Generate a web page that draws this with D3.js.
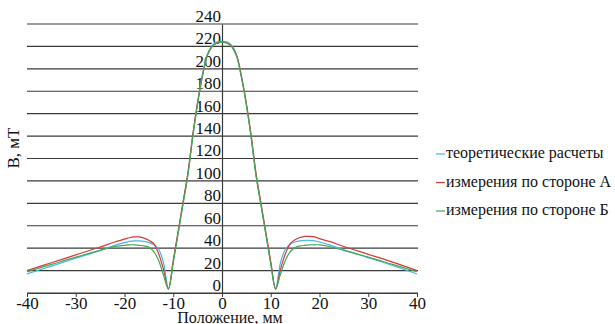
<!DOCTYPE html>
<html>
<head>
<meta charset="utf-8">
<script src="https://cdn.jsdelivr.net/npm/d3@7"></script>
<style>
  body { margin: 0; background: #fff; }
  svg text { font-family: "Liberation Serif", "Times New Roman", serif; fill: #111; }
</style>
</head>
<body>
<svg id="chart"></svg>
<script>
// positions, mm
const positions = [-40,-35,-30,-25,-22,-20,-19,-18,-17,-16,-15,-14,-13,-12,-11,
  -10,-9,-8,-7,-6,-5,-4,-3,-2,-1,0,1,2,3,4,5,6,7,8,9,10,
  11,12,13,14,15,16,17,18,19,20,22,25,30,35,40];

// B, mT
const theory = [17,24,31,38,42.5,45,46,46.5,46.5,46,45,43,39,27,4,
  28,54,80,106,140,170,195,213,221,224,224.5,224,221,212,193,168,139,105,79,53,27,
  4,27,39,43.5,45.5,46.5,47,47,46.5,45.5,43,38.5,31.5,24.5,17];
const sideA = [20,27,34,41,45.5,48,49.3,50,50,49,47,44,35,21,3.5,
  29,55,81,107,141,170,194,212,220,223,224,223,220,212,193,169,140,106,80,54,28,
  3.5,21,35,44,47.5,49.5,50.5,50.5,50,48.5,46,41.5,34.5,27.5,20];
const sideB = [19,25.5,32,38,41.5,42.5,43,43,42.5,42,40.8,37,29,16,3.5,
  27,53,79,105,139,169,194,212,220,223,223.5,223,219.5,211,192,168,138,104,78,52,26,
  3.5,17,29,37,40.5,42,42.5,43,43,43,41.5,38,32,25.5,19];

const seriesNames = ["теоретические расчеты", "измерения по стороне А", "измерения по стороне Б"];
const seriesColors = ["#45b6e6", "#d43b36", "#43a853"];

const xTicks = [-40,-30,-20,-10,0,10,20,30,40];
const yTicks = [0,20,40,60,80,100,120,140,160,180,200,220,240];

const width = 615, height = 324;
const serif = "'Liberation Serif', 'Times New Roman', serif";

const svg = d3.select("#chart")
    .attr("width", width)
    .attr("height", height)
    .attr("viewBox", [0, 0, width, height]);

const x = d3.scaleLinear().domain([-40, 40]).range([27, 417]);
const y = d3.scaleLinear().domain([0, 240]).range([293, 24]);

// horizontal gridlines
svg.append("g")
    .selectAll("line")
    .data(yTicks)
    .join("line")
    .attr("x1", x(-40))
    .attr("x2", x(40) + 1)
    .attr("y1", d => y(d))
    .attr("y2", d => y(d))
    .attr("stroke", "#3a3a3a")
    .attr("stroke-width", 1.2);

// x axis
const xAxis = svg.append("g")
    .attr("transform", "translate(0," + y(0) + ")")
    .call(d3.axisBottom(x).tickValues(xTicks).tickFormat(d => String(d))
        .tickSize(4).tickSizeOuter(0).tickPadding(0));
xAxis.attr("font-family", serif);
xAxis.select(".domain").attr("stroke", "#3a3a3a").attr("stroke-width", 1.2);
xAxis.selectAll(".tick line").attr("stroke", "#3a3a3a");
xAxis.selectAll(".tick text")
    .attr("dy", "0.68em")
    .style("font-size", "17px")
    .attr("fill", "#111");

// y axis in the middle
const yAxis = svg.append("g")
    .attr("transform", "translate(" + x(0) + ",0)")
    .call(d3.axisLeft(y).tickValues(yTicks).tickFormat(d => String(d))
        .tickSize(0).tickPadding(1));
yAxis.attr("font-family", serif);
yAxis.select(".domain").attr("stroke", "#3a3a3a").attr("stroke-width", 1.2);
yAxis.selectAll(".tick text")
    .attr("dy", "-0.15em")
    .style("font-size", "17px")
    .attr("fill", "#111");

// curves
const allSeries = [theory, sideA, sideB];
const line = d3.line()
    .x((d, i) => x(positions[i]))
    .y(d => y(d))
    .curve(d3.curveCatmullRom.alpha(0.5));

svg.append("g")
    .selectAll("path")
    .data(allSeries)
    .join("path")
    .attr("d", d => line(d))
    .attr("fill", "none")
    .attr("stroke", (d, i) => seriesColors[i])
    .attr("stroke-width", 1.2);

// axis titles
svg.append("text")
    .attr("x", x(0) + 8)
    .attr("y", 323)
    .attr("text-anchor", "middle")
    .style("font-family", serif)
    .style("font-size", "16px")
    .text("Положение, мм");

svg.append("text")
    .attr("transform", "translate(19,148) rotate(-90)")
    .attr("text-anchor", "middle")
    .style("font-family", serif)
    .style("font-size", "17px")
    .text("B, мТ");

// legend
const legend = svg.append("g")
    .selectAll("g")
    .data(seriesNames)
    .join("g")
    .attr("transform", (d, i) => "translate(436," + (153 + i * 28.5) + ")");

legend.append("line")
    .attr("x1", 0)
    .attr("x2", 9)
    .attr("y1", 1)
    .attr("y2", 1)
    .attr("stroke", (d, i) => seriesColors[i])
    .attr("stroke-width", 1.2);

legend.append("text")
    .attr("x", 10)
    .attr("dy", "0.33em")
    .style("font-family", serif)
    .style("font-size", "16px")
    .text(d => d);
</script>
</body>
</html>
